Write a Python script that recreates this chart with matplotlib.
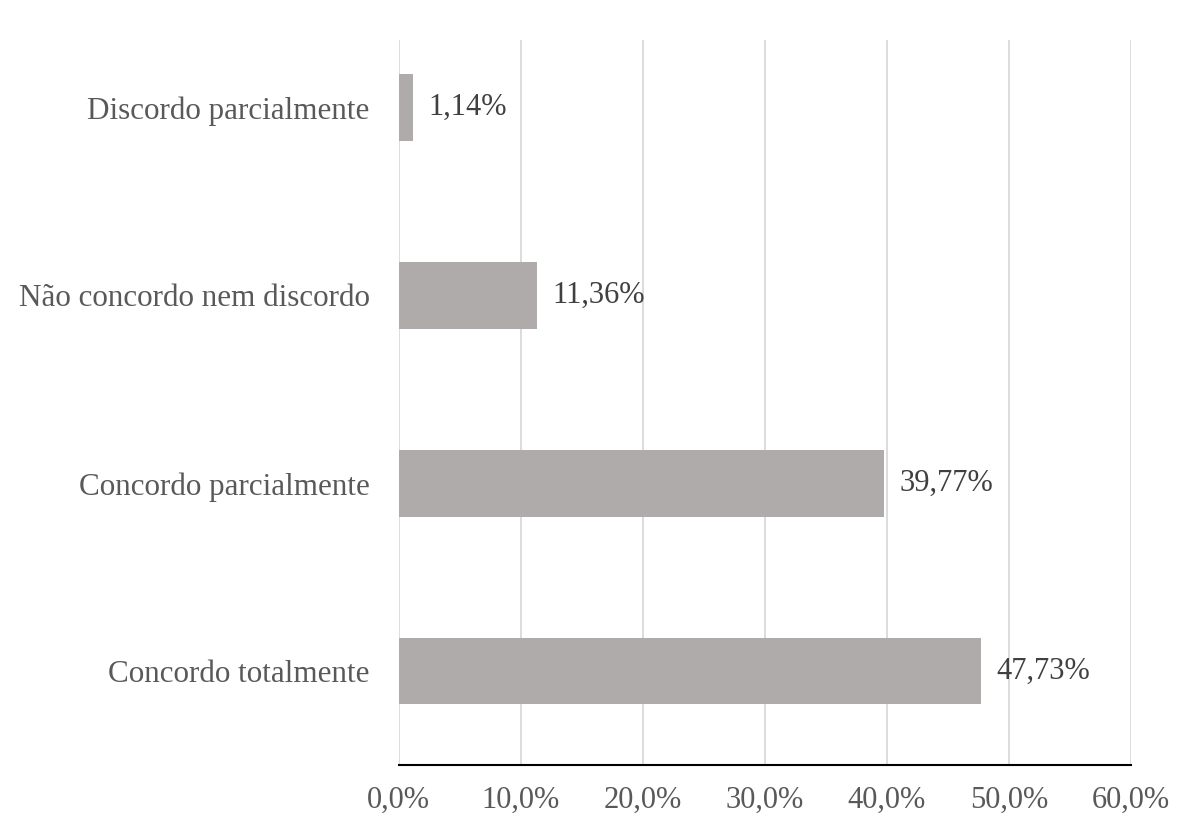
import matplotlib.pyplot as plt

categories = ['Concordo totalmente', 'Concordo parcialmente',
              'Não concordo nem discordo', 'Discordo parcialmente']
values = [47.73, 39.77, 11.36, 1.14]
value_labels = ['47,73%', '39,77%', '11,36%', '1,14%']
ticks = [0, 10, 20, 30, 40, 50, 60]
tick_labels = ['0,0%', '10,0%', '20,0%', '30,0%', '40,0%', '50,0%', '60,0%']

plt.rcParams['font.family'] = ['Liberation Serif', 'DejaVu Serif']

fig = plt.figure(figsize=(11.8, 8.17), dpi=100)
ax = fig.add_axes([0.338, 0.0636, 0.6205, 0.8874])

ypos = list(range(len(categories)))
ax.barh(ypos, values, height=0.355, color='#AFABAB', zorder=2)

for y, v, lab in zip(ypos, values, value_labels):
    ax.annotate(lab, (v, y), xytext=(11, 0), textcoords='offset points',
                va='center', ha='left', fontsize=22, color='#404040')

ax.set_xlim(0, 60)
ax.set_ylim(-0.5, 3.36)
ax.set_xticks(ticks)
ax.set_xticklabels(tick_labels, fontsize=22, color='#595959')
ax.set_yticks(ypos)
ax.set_yticklabels(categories, fontsize=22.4, color='#595959')
ax.tick_params(axis='both', length=0)
ax.tick_params(axis='x', pad=15)
ax.tick_params(axis='y', pad=21)

ax.grid(axis='x', color='#D9D9D9', linewidth=1.3, zorder=0)
for side in ['top', 'right', 'left']:
    ax.spines[side].set_visible(False)
ax.spines['bottom'].set_color('#000000')
ax.spines['bottom'].set_linewidth(1.5)

fig.savefig('out.png', dpi=100)
